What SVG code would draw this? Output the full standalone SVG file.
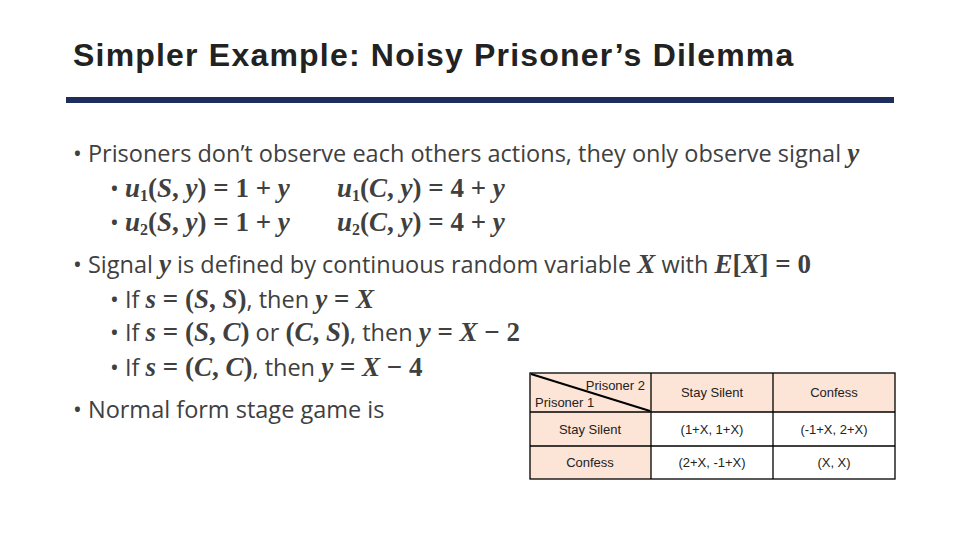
<svg xmlns="http://www.w3.org/2000/svg" width="960" height="540" viewBox="0 0 960 540">
<style>
.b{font-family:"Open Sans","Liberation Sans",sans-serif;font-size:23.5px;fill:#404040}
.m{font-family:"Liberation Serif",serif;font-style:italic;font-weight:bold;font-size:27px}
.n{font-family:"Liberation Serif",serif;font-weight:bold;font-style:normal;font-size:27px}
.t{font-family:"Liberation Sans",sans-serif;font-size:13px;fill:#222;text-anchor:middle}
.c{stroke:#000;stroke-width:1.3}
</style>
<rect width="960" height="540" fill="#fff"/>
<g id="title"><text x="73" y="66" font-family="Liberation Sans,sans-serif" font-weight="bold" font-size="32" letter-spacing="1.2" fill="#222">Simpler Example: Noisy Prisoner’s Dilemma</text>
<rect x="66" y="97" width="828" height="6" fill="#1f2d5c"/></g>
<g id="bullets" class="b">
<text x="73" y="162">• Prisoners don’t observe each others actions, they only observe signal <tspan class="m">y</tspan></text>
<text x="110" y="197">• <tspan class="m">u</tspan><tspan class="n" dy="4" style="font-size:16px">1</tspan><tspan class="n" dy="-4">(</tspan><tspan class="m">S</tspan><tspan class="n">, </tspan><tspan class="m">y</tspan><tspan class="n">) = 1 + </tspan><tspan class="m">y</tspan></text>
<text x="337" y="197"><tspan class="m">u</tspan><tspan class="n" dy="4" style="font-size:16px">1</tspan><tspan class="n" dy="-4">(</tspan><tspan class="m">C</tspan><tspan class="n">, </tspan><tspan class="m">y</tspan><tspan class="n">) = 4 + </tspan><tspan class="m">y</tspan></text>
<text x="110" y="231">• <tspan class="m">u</tspan><tspan class="n" dy="4" style="font-size:16px">2</tspan><tspan class="n" dy="-4">(</tspan><tspan class="m">S</tspan><tspan class="n">, </tspan><tspan class="m">y</tspan><tspan class="n">) = 1 + </tspan><tspan class="m">y</tspan></text>
<text x="337" y="231"><tspan class="m">u</tspan><tspan class="n" dy="4" style="font-size:16px">2</tspan><tspan class="n" dy="-4">(</tspan><tspan class="m">C</tspan><tspan class="n">, </tspan><tspan class="m">y</tspan><tspan class="n">) = 4 + </tspan><tspan class="m">y</tspan></text>
<text x="73" y="273">• Signal <tspan class="m">y</tspan> is defined by continuous random variable <tspan class="m">X</tspan> with <tspan class="m">E</tspan><tspan class="n">[</tspan><tspan class="m">X</tspan><tspan class="n">] = 0</tspan></text>
<text x="110" y="308">• If <tspan class="m">s</tspan><tspan class="n"> = (</tspan><tspan class="m">S</tspan><tspan class="n">, </tspan><tspan class="m">S</tspan><tspan class="n">)</tspan>, then <tspan class="m">y</tspan><tspan class="n"> = </tspan><tspan class="m">X</tspan></text>
<text x="110" y="341">• If <tspan class="m">s</tspan><tspan class="n"> = (</tspan><tspan class="m">S</tspan><tspan class="n">, </tspan><tspan class="m">C</tspan><tspan class="n">)</tspan> or <tspan class="n">(</tspan><tspan class="m">C</tspan><tspan class="n">, </tspan><tspan class="m">S</tspan><tspan class="n">)</tspan>, then <tspan class="m">y</tspan><tspan class="n"> = </tspan><tspan class="m">X</tspan><tspan class="n"> − 2</tspan></text>
<text x="110" y="376">• If <tspan class="m">s</tspan><tspan class="n"> = (</tspan><tspan class="m">C</tspan><tspan class="n">, </tspan><tspan class="m">C</tspan><tspan class="n">)</tspan>, then <tspan class="m">y</tspan><tspan class="n"> = </tspan><tspan class="m">X</tspan><tspan class="n"> − 4</tspan></text>
<text x="73" y="418">• Normal form stage game is</text>
</g>
<g id="table">
<rect x="530" y="373" width="365" height="39" fill="#fce4d6"/>
<rect x="530" y="412" width="121" height="67" fill="#fce4d6"/>
<rect x="530" y="373" width="365" height="106" fill="none" class="c"/>
<line x1="651" y1="373" x2="651" y2="479" class="c"/>
<line x1="773" y1="373" x2="773" y2="479" class="c"/>
<line x1="530" y1="412" x2="895" y2="412" class="c"/>
<line x1="530" y1="446" x2="895" y2="446" class="c"/>
<line x1="531" y1="374" x2="650" y2="411" stroke="#000" stroke-width="2"/>
<text x="645" y="390" class="t" style="text-anchor:end">Prisoner 2</text>
<text x="535" y="407" class="t" style="text-anchor:start">Prisoner 1</text>
<text x="712" y="397" class="t">Stay Silent</text>
<text x="834" y="397" class="t">Confess</text>
<text x="590" y="434" class="t">Stay Silent</text>
<text x="712" y="434" class="t">(1+X, 1+X)</text>
<text x="834" y="434" class="t">(-1+X, 2+X)</text>
<text x="590" y="467" class="t">Confess</text>
<text x="712" y="467" class="t">(2+X, -1+X)</text>
<text x="834" y="467" class="t">(X, X)</text>
</g>
</svg>
